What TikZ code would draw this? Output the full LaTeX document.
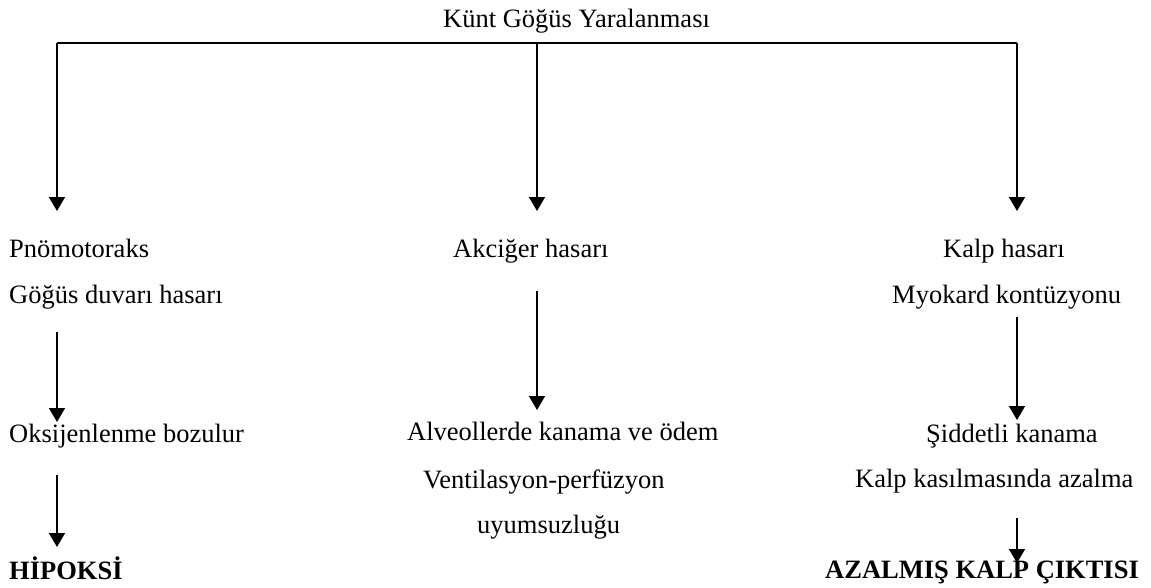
\documentclass[tikz,border=0pt]{standalone}
\usepackage{fontspec}
\setmainfont{Liberation Serif}
\usetikzlibrary{arrows.meta}
\begin{document}
\begin{tikzpicture}[x=1pt,y=-1pt,
  lbl/.style={inner sep=0pt, anchor=base west, font=\fontsize{26.5}{30}\selectfont},
  lblb/.style={lbl, font=\fontsize{26.5}{30}\selectfont\bfseries},
  ln/.style={line width=1.6pt},
  arr/.style={line width=1.6pt, -{Triangle[width=16pt,length=14pt]}}]
\useasboundingbox (0,0) rectangle (1151,587);
% texts
\node[lbl] (t) at (443,27) {Künt Göğüs Yaralanması};
\node[lbl] (pno) at (9,257) {Pnömotoraks};
\node[lbl] (gog) at (9,303) {Göğüs duvarı hasarı};
\node[lbl] (akc) at (453,257) {Akciğer hasarı};
\node[lbl] (kalp) at (943,257) {Kalp hasarı};
\node[lbl] (myo) at (892,303) {Myokard kontüzyonu};
\node[lbl] (oks) at (9,442) {Oksijenlenme bozulur};
\node[lbl] (alv) at (407,440) {Alveollerde kanama ve ödem};
\node[lbl] (ven) at (423,488) {Ventilasyon-perfüzyon};
\node[lbl] (uyu) at (477,533) {uyumsuzluğu};
\node[lbl] (sid) at (926,442) {Şiddetli kanama};
\node[lbl] (kas) at (855,487) {Kalp kasılmasında azalma};
\node[lblb] (hip) at (9,579) {HİPOKSİ};
\node[lblb] (azk) at (825,578) {AZALMIŞ KALP ÇIKTISI};
% connector points
\coordinate (hl) at (57,43);
\coordinate (hm) at (537,43);
\coordinate (hr) at (1017,43);
\coordinate (e1) at (57,211);
\coordinate (e2) at (537,211);
\coordinate (e3) at (1017,211);
\coordinate (s4) at (57,332);
\coordinate (e4) at (57,422);
\coordinate (s5) at (537,291);
\coordinate (e5) at (537,410);
\coordinate (s6) at (1017,317);
\coordinate (e6) at (1017,420);
\coordinate (s7) at (57,475);
\coordinate (e7) at (57,547);
\coordinate (s8) at (1017,518);
\coordinate (e8) at (1017,563);
% connectors
\draw[ln] (hl) -- (hr);
\draw[arr] (hl) -- (e1);
\draw[arr] (hm) -- (e2);
\draw[arr] (hr) -- (e3);
\draw[arr] (s4) -- (e4);
\draw[arr] (s5) -- (e5);
\draw[arr] (s6) -- (e6);
\draw[arr] (s7) -- (e7);
\draw[arr] (s8) -- (e8);
\end{tikzpicture}
\end{document}
